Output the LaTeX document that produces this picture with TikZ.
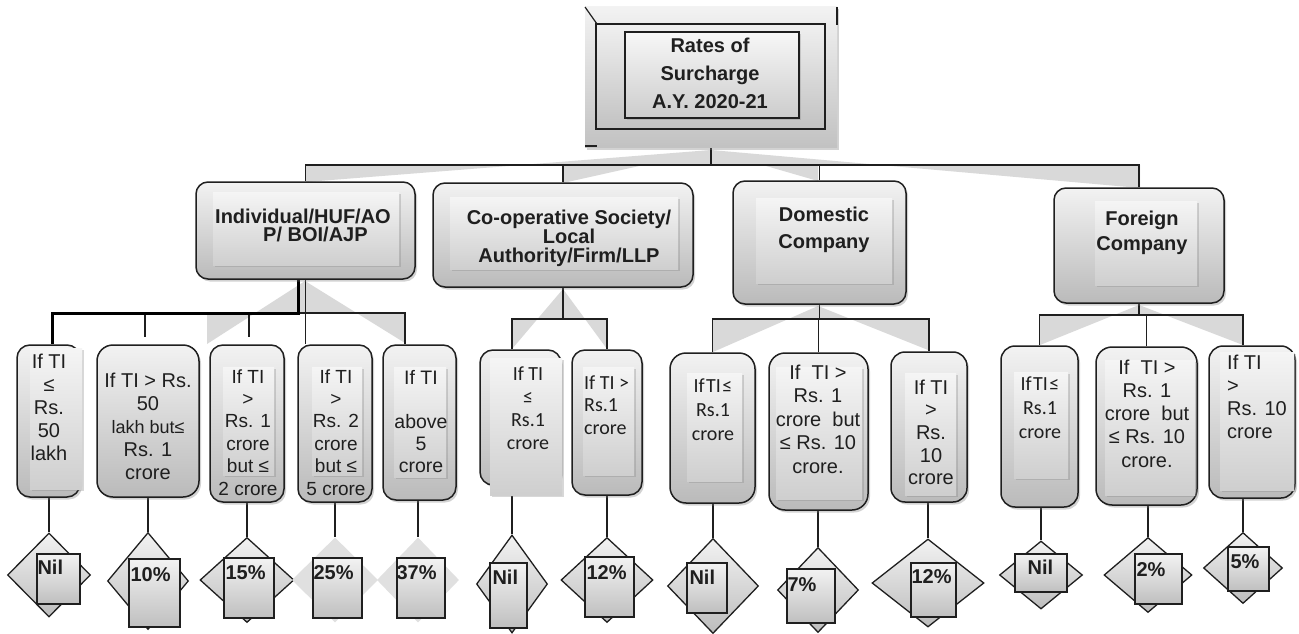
\documentclass[tikz,border=0pt]{standalone}
\usepackage{fontspec}
\setmainfont{Liberation Sans}
\newfontfamily\carl{Carlito}
\usetikzlibrary{shapes.geometric,shadows,calc,fit,backgrounds}
\newcommand{\tabc}[1]{\begin{tabular}[t]{@{}c@{}}#1\end{tabular}}
\newcommand{\tabl}[1]{\begin{tabular}[t]{@{}l@{}}#1\end{tabular}}
\newcommand{\wedgetri}[5]{%
  \pgfmathsetmacro{\wdt}{(#5-#2)/(#4-#2)}%
  \fill[wedge] (#1,#2) -- ($(#1,#2)!\wdt!(#3,#4)$) -- (#1,#5) -- cycle;%
  \fill[wedge] ($(#1,#2)!\wdt!(#3,#4)$) -- (#3,#5) -- (#3,#4) -- cycle;}
\begin{document}
\begin{tikzpicture}[x=1pt,y=-1pt,
  obox/.style={draw=black!88, line width=1.5pt, rounded corners=12pt, top color=black!5, bottom color=black!27, inner sep=0pt, drop shadow={opacity=0.35, shadow xshift=2pt, shadow yshift=-2.5pt}},
  topouter/.style={top color=black!5, bottom color=black!24, inner sep=0pt, drop shadow={opacity=0.35, shadow xshift=2pt, shadow yshift=-2.5pt}},
  framed/.style={draw=black!88, line width=1.5pt, top color=black!6, bottom color=black!24},
  irect/.style={top color=black!4, bottom color=black!19, drop shadow={opacity=0.3, shadow xshift=1.5pt, shadow yshift=-2pt}},
  link/.style={draw=black!88, line width=1.2pt},
  heavy/.style={draw=black, line width=3pt},
  wedge/.style={fill=black!15},
  dia/.style={diamond, draw=black!88, line width=1.3pt, top color=black!5, bottom color=black!26, inner sep=0pt},
  fdia/.style={diamond, fill=black!12, inner sep=0pt},
  sq/.style={draw=black!88, line width=1.3pt, top color=black!5, bottom color=black!25, inner sep=0pt},
  head/.style={font=\bfseries\fontsize{20}{23}\selectfont, text=black!88, inner sep=0pt, anchor=base},
  txt/.style={font=\fontsize{20}{23}\selectfont, text=black!88, inner sep=0pt, anchor=base},
  ctxt/.style={font=\carl\fontsize{20}{23}\selectfont, text=black!88, inner sep=0pt, anchor=base},
  lab/.style={font=\bfseries\fontsize{20}{23}\selectfont, text=black!88, inner sep=0pt, anchor=base west}]
\useasboundingbox (0,0) rectangle (1299,634);

% ---------- nodes: boxes
\node[topouter, fit={(585,7) (837,147)}] (top) {};
\node[obox, fit={(196,182) (415,279)}] (ind) {};
\node[obox, fit={(433,183) (693,287)}] (coop) {};
\node[obox, fit={(733,181) (906,304)}] (dom) {};
\node[obox, fit={(1054,188) (1224,303)}] (for) {};

\node[obox, rounded corners=13pt, fit={(17,345) (80,497)}] (b1) {};
\node[obox, rounded corners=16pt, fit={(97,345) (199,497)}] (b2) {};
\node[obox, rounded corners=13pt, fit={(210,345) (284,502)}] (b3) {};
\node[obox, rounded corners=13pt, fit={(298,345) (372,502)}] (b4) {};
\node[obox, rounded corners=13pt, fit={(383,345) (456,500)}] (b5) {};
\node[obox, rounded corners=13pt, fit={(480,350) (561,485)}] (c1) {};
\node[obox, rounded corners=13pt, fit={(572,350) (642,495)}] (c2) {};
\node[obox, rounded corners=16pt, fit={(670,353) (755,503)}] (d1) {};
\node[obox, rounded corners=16pt, fit={(769,353) (868,510)}] (d2) {};
\node[obox, rounded corners=14pt, fit={(891,352) (967,502)}] (d3) {};
\node[obox, rounded corners=14pt, fit={(1001,346) (1078,507)}] (f1) {};
\node[obox, rounded corners=16pt, fit={(1096,347) (1197,505)}] (f2) {};
\node[obox, rounded corners=14pt, fit={(1209,346) (1295,498)}] (f3) {};

% ---------- diamonds
\node[dia, minimum width=83pt, minimum height=84pt] (k1) at (49,575) {};
\node[dia, minimum width=81pt, minimum height=97pt] (k2) at (148,581) {};
\node[dia, minimum width=94pt, minimum height=85pt] (k3) at (247,580) {};
\node[fdia, minimum width=86pt, minimum height=85pt] (k4) at (335,580) {};
\node[fdia, minimum width=82pt, minimum height=85pt] (k5) at (418,580) {};
\node[dia, minimum width=71pt, minimum height=98pt] (kc1) at (512,584) {};
\node[dia, minimum width=92pt, minimum height=85pt] (kc2) at (607,580) {};
\node[dia, minimum width=91pt, minimum height=95pt] (kd1) at (713,586) {};
\node[dia, minimum width=81pt, minimum height=85pt] (kd2) at (818,590) {};
\node[dia, minimum width=112pt, minimum height=88pt] (kd3) at (928,583) {};
\node[dia, minimum width=83pt, minimum height=68pt] (kf1) at (1041,575) {};
\node[dia, minimum width=88pt, minimum height=75pt] (kf2) at (1148,575) {};
\node[dia, minimum width=79pt, minimum height=71pt] (kf3) at (1243,568) {};

% ---------- background: white, wedges, connectors
\begin{scope}[on background layer]
\fill[white] (0,0) rectangle (1299,634);
\wedgetri{711}{150}{306}{182}{165}
\wedgetri{711}{150}{563}{183}{165}
\wedgetri{711}{150}{818}{181}{165}
\wedgetri{711}{150}{1140}{188}{165}
\wedgetri{305}{281}{207}{344}{313}
\wedgetri{305}{281}{405}{343}{313}
\wedgetri{563}{289}{512}{349}{319}
\wedgetri{563}{289}{607}{349}{319}
\wedgetri{818}{306}{713}{352}{319}
\wedgetri{818}{306}{928}{350}{319}
\wedgetri{1139}{305}{1040}{345}{315}
\wedgetri{1139}{305}{1243}{345}{315}

\coordinate (hub) at (711,165);
\draw[link] (top.south) -- (hub);
\draw[link] (ind.north) |- (hub) -| (for.north);
\draw[link] (coop.north) -- (coop.north |- hub);
\draw[link] (dom.north) -- (dom.north |- hub);

\coordinate (iL) at (52,313);
\coordinate (iR) at (405,313);
\coordinate (i2) at (145,337);
\coordinate (i3) at (249,337);
\draw[link] (ind.south) -- (ind.south |- b4.north);
\draw[link] (iL) -- (iR) -- (iR |- b5.north);
\draw[link] (i2 |- iL) -- (i2);
\draw[link] (i3 |- iL) -- (i3);
\draw[heavy] ($(ind.south)+(-7,0)$) |- (iL) -- (iL |- b1.north);

\coordinate (cL) at (512,319);
\coordinate (cR) at (607,319);
\draw[link] (coop.south) -- (coop.south |- cL);
\draw[link] (cL |- c1.north) -- (cL) -- (cR) -- (cR |- c2.north);

\coordinate (dL) at (713,319);
\draw[link] (dom.south) -- (dom.south |- dL);
\draw[link] (d1.north) |- (d3.north |- dL) -- (d3.north);
\draw[link] (d2.north) -- (d2.north |- dL);

\coordinate (fL) at (1040,315);
\coordinate (fR) at (1243,315);
\draw[link] (for.south) -- (for.south |- fL);
\draw[link] (f1.north) |- (fR) -- (fR |- f3.north);
\draw[link] (f2.north) -- (f2.north |- fR);

\foreach \bx/\dm in {b1/k1,b2/k2,b3/k3,b4/k4,b5/k5,c1/kc1,c2/kc2,d1/kd1,d2/kd2,d3/kd3,f1/kf1,f2/kf2,f3/kf3}
  \draw[link] (\bx.south -| \dm.north) -- (\dm.north);
\end{scope}

% ---------- top box details
\path[framed] (596,24) rectangle (825,129);
\path[framed, top color=black!3, bottom color=black!20, drop shadow={opacity=0.3, shadow xshift=1.5pt, shadow yshift=-2pt}] (625,32) rectangle (799,118);
\draw[black!88, line width=1.2pt] (585,7) -- (597,24);
\draw[black!88, line width=2pt] (837,7) -- (837,25);
\draw[black!88, line width=1.5pt] (585,146) -- (597,146);

% ---------- inner panels
\path[irect] (213,192) rectangle (399,265);
\path[irect] (450,197) rectangle (678,269);
\path[irect] (756,198) rectangle (892,283);
\path[irect] (1095,201) rectangle (1197,285);
\path[irect] (30,348) rectangle (82,489);
\path[irect] (223,367) rectangle (274,475);
\path[irect] (312,367) rectangle (362,475);
\path[irect] (394,367) rectangle (446,477);
\path[irect] (490,358) rectangle (562,495);
\path[irect] (583,367) rectangle (634,475);
\path[irect] (687,373) rectangle (742,481);
\path[irect] (776,367) rectangle (862,499);
\path[irect] (905,373) rectangle (956,495);
\path[irect] (1014,372) rectangle (1068,478);
\path[irect] (1105,360) rectangle (1195,495);
\path[irect] (1220,352) rectangle (1294,490);

% ---------- texts
\node[head, font=\bfseries\fontsize{20}{28}\selectfont] (t0) at (710,53) {\tabc{Rates of\\Surcharge\\A.Y. 2020-21}};
\node[head, anchor=base west] (tind) at (215,223) {\tabl{Individual/HUF/AO\\[-5pt]\hspace*{48pt}P/ BOI/AJP}};
\node[head] (tcoop) at (569,224) {\tabc{Co-operative Society/\\[-4pt]Local\\[-4pt]Authority/Firm/LLP}};
\node[head, font=\bfseries\fontsize{20}{27}\selectfont] (tdom) at (824,221) {\tabc{Domestic\\Company}};
\node[head, font=\bfseries\fontsize{20}{25}\selectfont] (tfor) at (1142,225) {\tabc{Foreign\\Company}};

\node[txt] (tb1) at (49,368) {\tabc{If TI\\≤\\Rs.\\50\\lakh}};
\node[txt] (tb2) at (148,387) {\tabc{If TI > Rs.\\50\\{\fontsize{18}{23}\selectfont lakh but≤}\\Rs. 1\\crore}};
\node[txt, font=\fontsize{19}{22.4}\selectfont] (tb3) at (248,383) {\tabc{If TI\\>\\Rs. 1\\crore\\but ≤\\2 crore}};
\node[txt, font=\fontsize{19}{22.4}\selectfont] (tb4) at (336,383) {\tabc{If TI\\>\\Rs. 2\\crore\\but ≤\\5 crore}};
\node[txt, font=\fontsize{19.5}{22}\selectfont] (tb5) at (421,384) {\tabc{If TI\\ \\above\\5\\crore}};
\node[ctxt] (tc1) at (528,380) {\tabc{If TI\\≤\\Rs.1\\crore}};
\node[ctxt, font=\carl\fontsize{20}{22.5}\selectfont, anchor=base west] (tc2) at (584,389) {\tabl{If TI >\\Rs.1\\crore}};
\node[ctxt, font=\carl\fontsize{20}{24}\selectfont] (td1) at (713,392) {\tabc{If\kern1.5pt TI\kern1.5pt≤\\Rs.1\\crore}};
\node[txt, font=\fontsize{20}{23.5}\selectfont] (td2) at (818,379) {\tabc{If\ \ TI >\\Rs. 1\\crore\ \ but\\≤ Rs. 10\\crore.}};
\node[txt, font=\fontsize{20}{22.7}\selectfont] (td3) at (931,394) {\tabc{If TI\\>\\Rs.\\10\\crore}};
\node[ctxt, font=\carl\fontsize{20}{24}\selectfont] (tf1) at (1040,390) {\tabc{If\kern1.5pt TI\kern1.5pt≤\\Rs.1\\crore}};
\node[txt, font=\fontsize{20}{23.3}\selectfont] (tf2) at (1147,374) {\tabc{If\ \ TI >\\Rs. 1\\crore\ \ but\\≤ Rs. 10\\crore.}};
\node[txt, font=\fontsize{20}{23.3}\selectfont, anchor=base west] (tf3) at (1227,369) {\tabl{If TI\\>\\Rs. 10\\crore}};

% ---------- squares with rates
\node[sq, fit={(37,554) (80,604)}] (q1) {};
\node[sq, fit={(129,559) (180,627)}] (q2) {};
\node[sq, fit={(224,558) (274,618)}] (q3) {};
\node[sq, fit={(313,558) (362,618)}] (q4) {};
\node[sq, fit={(397,558) (445,618)}] (q5) {};
\node[sq, fit={(490,563) (527,628)}] (qc1) {};
\node[sq, fit={(585,557) (634,617)}] (qc2) {};
\node[sq, fit={(687,563) (727,613)}] (qd1) {};
\node[sq, fit={(787,569) (835,623)}] (qd2) {};
\node[sq, fit={(911,563) (956,617)}] (qd3) {};
\node[sq, fit={(1015,554) (1067,592)}] (qf1) {};
\node[sq, fit={(1135,554) (1182,604)}] (qf2) {};
\node[sq, fit={(1228,547) (1269,591)}] (qf3) {};

\node[lab] (l1) at ($(q1.north west)+(1,21)$) {Nil};
\node[lab] (l2) at ($(q2.north west)+(2,23)$) {10\%};
\node[lab] (l3) at ($(q3.north west)+(2,22)$) {15\%};
\node[lab] (l4) at ($(q4.north west)+(1,22)$) {25\%};
\node[lab] (l5) at ($(q5.north west)+(0,22)$) {37\%};
\node[lab] (lc1) at ($(qc1.north west)+(3,22)$) {Nil};
\node[lab] (lc2) at ($(qc2.north west)+(2,23)$) {12\%};
\node[lab] (ld1) at ($(qd1.north west)+(3,22)$) {Nil};
\node[lab] (ld2) at ($(qd2.north west)+(1,23)$) {7\%};
\node[lab] (ld3) at ($(qd3.north west)+(1,21)$) {12\%};
\node[lab] (lf1) at ($(qf1.north west)+(13,21)$) {Nil};
\node[lab] (lf2) at ($(qf2.north west)+(2,23)$) {2\%};
\node[lab] (lf3) at ($(qf3.north west)+(3,22)$) {5\%};
\end{tikzpicture}
\end{document}
